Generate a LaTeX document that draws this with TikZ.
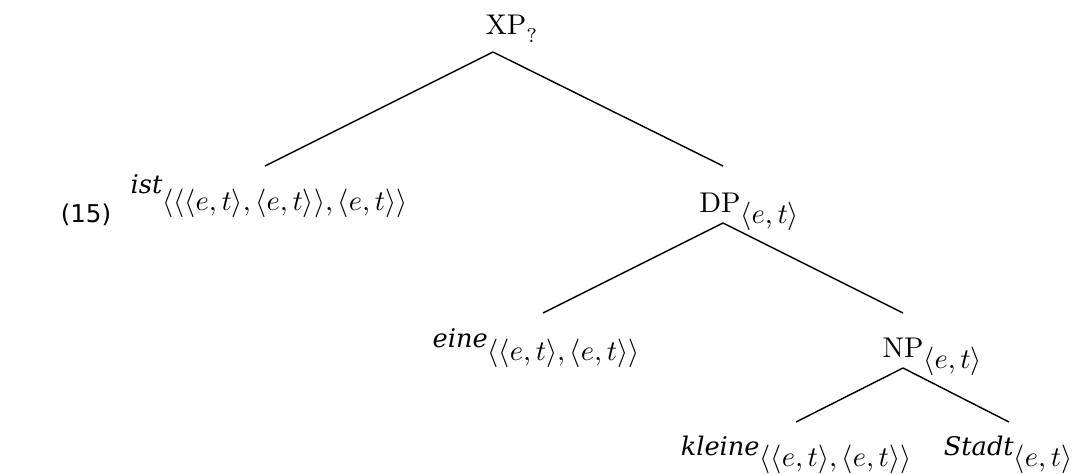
\documentclass[tikz,border=0pt]{standalone}
\usepackage{amsmath}
\usepackage{fontspec}
\usetikzlibrary{positioning,calc}
\newfontfamily\exnofont{DejaVu Sans}
\newfontfamily\wordfont{DejaVu Serif}
% full-size type, hung below the right of a category
\newcommand{\ty}[1]{\rlap{$\null_{\textstyle #1}$}}
% word with its type lowered by hand
\newcommand{\lf}[3][4.1pt]{{\wordfont\itshape\fontsize{9}{11}\selectfont #2}\raisebox{-#1}{$#3$}}
\newcommand{\et}{\langle e,t\rangle}

\begin{document}
\begin{tikzpicture}[x=0.01233cm, y=-0.01233cm,
    cat/.style={inner sep=0pt, anchor=base},
    leaf/.style={inner sep=0pt, anchor=base},
    branch/.style={line width=0.5pt}
]
\useasboundingbox (0,0) rectangle (1074,473);
\node[anchor=base, inner sep=0pt, font=\exnofont\fontsize{8.6}{10}\selectfont] (exno) at (86,222) {(15)};

\node[cat] (xp) at (506,35) {XP\rlap{\raisebox{-2.6pt}{$\scriptstyle ?$}}};
\node[leaf] (ist) at (269,193) {\lf[6pt]{ist}{\langle\langle\et,\et\rangle,\et\rangle}};
\node[cat] (dp) at (720,212) {DP\ty{\et}};
\node[leaf] (eine) at (536,347) {\lf[4.8pt]{eine}{\langle\et,\et\rangle}};
\node[cat] (np) at (903,357) {NP\ty{\et}};
\node[leaf] (kleine) at (796,455) {\lf{kleine}{\langle\et,\et\rangle}};
\node[leaf] (stadt) at (1008,455) {\lf{Stadt}{\et}};

\draw[branch] ($(xp.base)+(-13,17)$) -- ($(ist.base)+(-4,-27)$);
\draw[branch] ($(xp.base)+(-13,17)$) -- ($(dp.base)+(3,-46)$);
\draw[branch] ($(dp.base)+(3,11)$) -- ($(eine.base)+(7,-34)$);
\draw[branch] ($(dp.base)+(3,11)$) -- ($(np.base)+(0,-44)$);
\draw[branch] ($(np.base)+(0,11)$) -- ($(kleine.base)+(0,-33)$);
\draw[branch] ($(np.base)+(0,11)$) -- ($(stadt.base)+(1,-33)$);
\end{tikzpicture}
\end{document}
